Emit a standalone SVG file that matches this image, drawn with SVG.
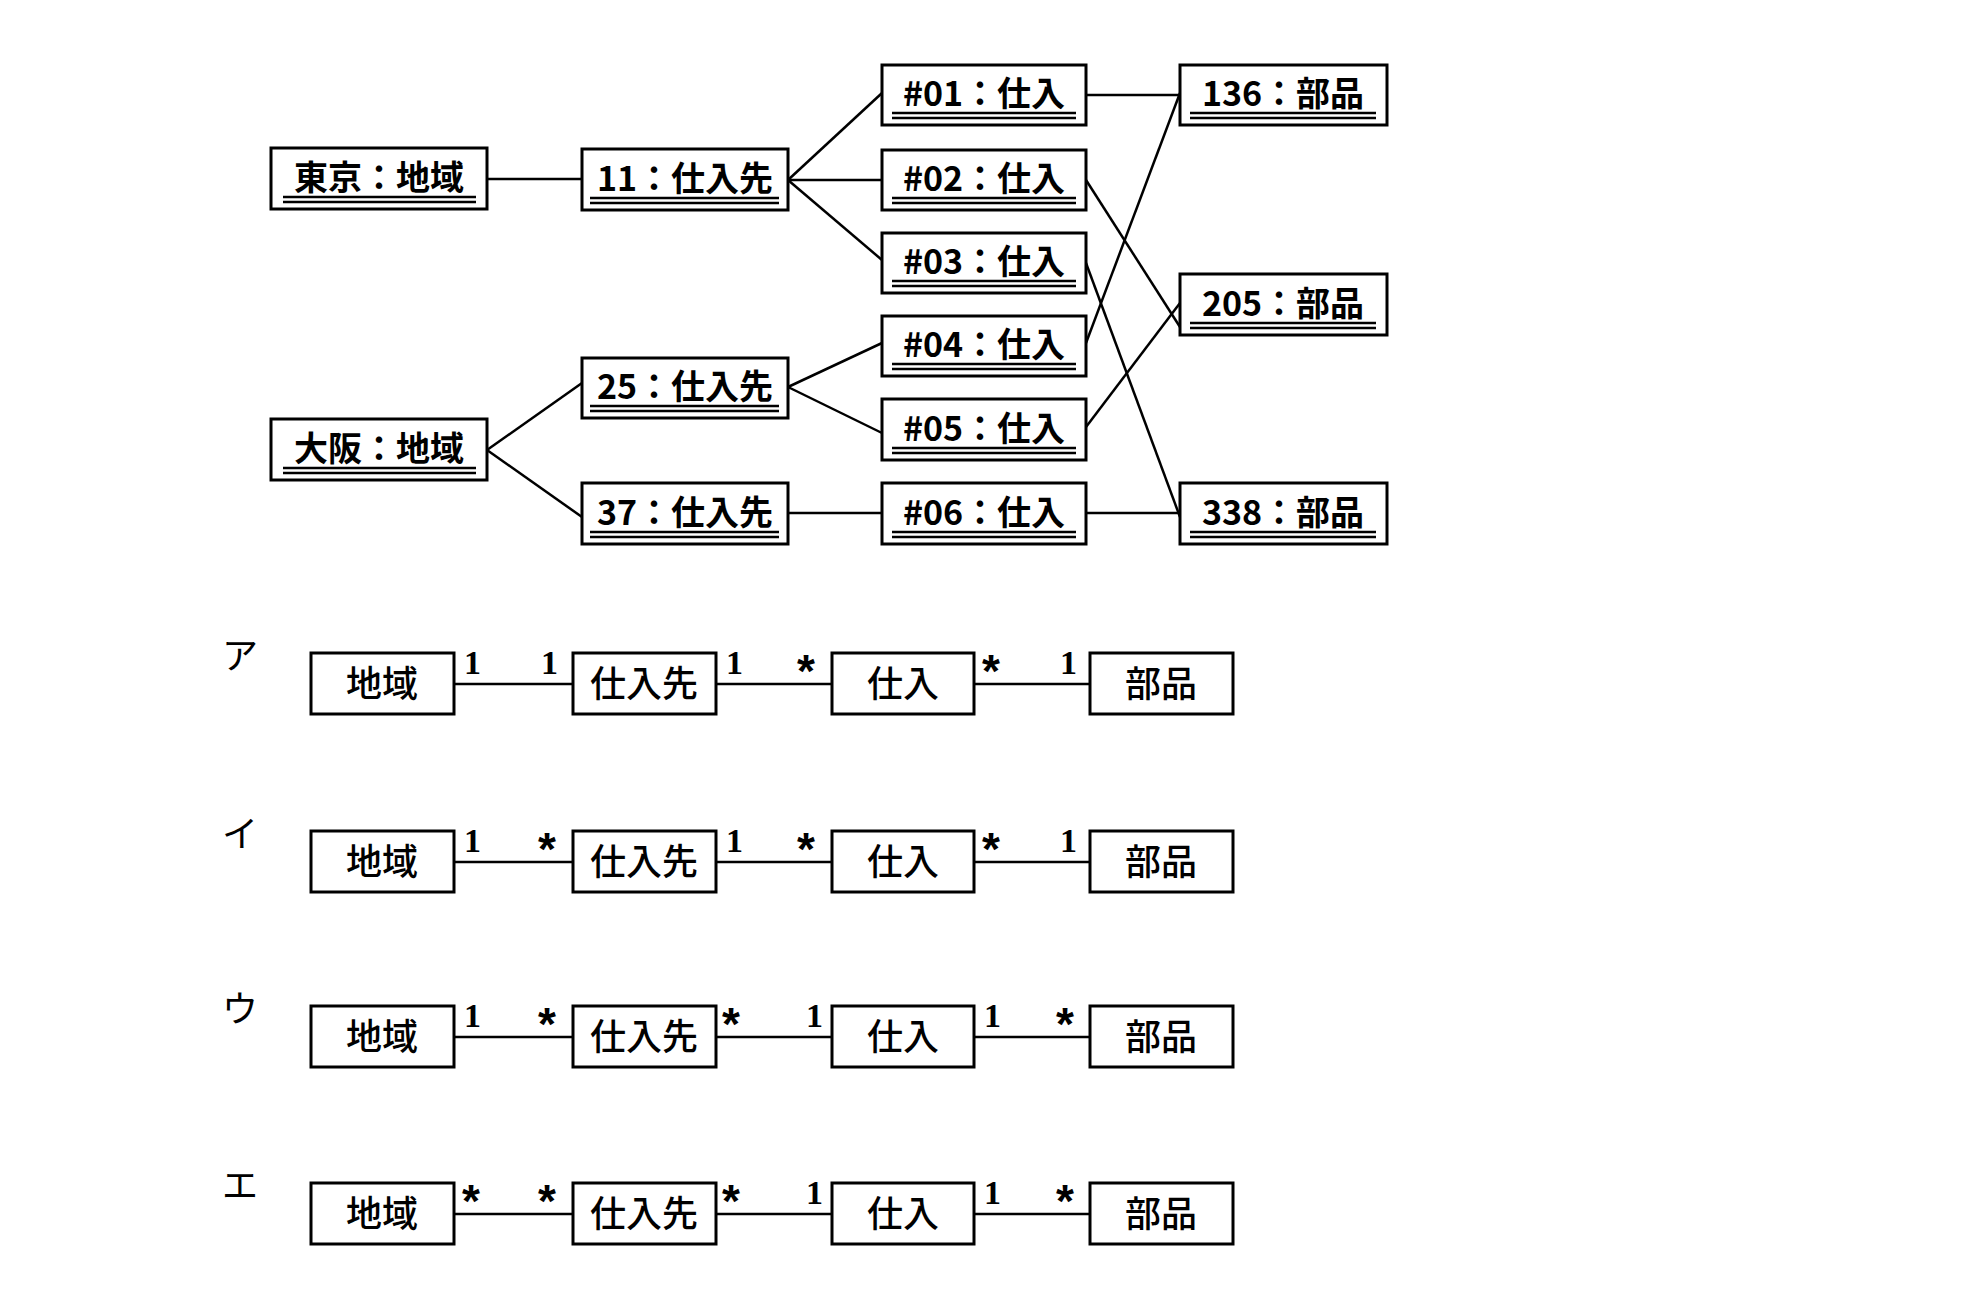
<svg xmlns="http://www.w3.org/2000/svg" width="1980" height="1300" viewBox="0 0 1980 1300">
<style>
rect{fill:#fff;stroke:#000;stroke-width:3}
text{font-family:"Noto Sans CJK JP","Liberation Sans",sans-serif;fill:#000}
.t{font-size:34px;font-weight:bold;text-anchor:middle}
.b{font-size:36px;font-weight:500;text-anchor:middle}
.m{font-size:34px;font-weight:bold;font-family:"Liberation Serif","Noto Sans CJK JP",serif}
.s{font-size:46px;font-weight:bold;font-family:"Liberation Sans","Noto Sans CJK JP",sans-serif}
.k{font-size:36px}
.u{stroke:#000;stroke-width:2.5}
#c line{stroke:#000;stroke-width:2.5}
</style>
<rect x="0" y="0" width="1980" height="1300" style="fill:#fff;stroke:none"/>
<g id="c">
<line x1="487" y1="179" x2="582" y2="179"/>
<line x1="788" y1="180" x2="882" y2="93"/>
<line x1="788" y1="180" x2="882" y2="180"/>
<line x1="788" y1="180" x2="882" y2="260"/>
<line x1="487" y1="450" x2="582" y2="383"/>
<line x1="487" y1="450" x2="582" y2="517"/>
<line x1="788" y1="387" x2="882" y2="343"/>
<line x1="788" y1="387" x2="882" y2="433"/>
<line x1="788" y1="513" x2="882" y2="513"/>
<line x1="1086" y1="95" x2="1180" y2="95"/>
<line x1="1086" y1="180" x2="1180" y2="327"/>
<line x1="1086" y1="263" x2="1180" y2="517"/>
<line x1="1086" y1="343" x2="1180" y2="93"/>
<line x1="1086" y1="427" x2="1180" y2="303"/>
<line x1="1086" y1="513" x2="1180" y2="513"/>
<line x1="454" y1="684" x2="573" y2="684"/><line x1="716" y1="684" x2="832" y2="684"/><line x1="974" y1="684" x2="1090" y2="684"/>
<line x1="454" y1="862" x2="573" y2="862"/><line x1="716" y1="862" x2="832" y2="862"/><line x1="974" y1="862" x2="1090" y2="862"/>
<line x1="454" y1="1037" x2="573" y2="1037"/><line x1="716" y1="1037" x2="832" y2="1037"/><line x1="974" y1="1037" x2="1090" y2="1037"/>
<line x1="454" y1="1214" x2="573" y2="1214"/><line x1="716" y1="1214" x2="832" y2="1214"/><line x1="974" y1="1214" x2="1090" y2="1214"/>
</g>
<g id="tokyo"><rect x="271" y="148" width="216" height="61"/><text class="t" x="379" y="190">東京：地域</text><line class="u" x1="283" y1="197" x2="476" y2="197"/><line class="u" x1="283" y1="202" x2="476" y2="202"/></g>
<g id="osaka"><rect x="271" y="419" width="216" height="61"/><text class="t" x="379" y="461">大阪：地域</text><line class="u" x1="283" y1="468" x2="476" y2="468"/><line class="u" x1="283" y1="473" x2="476" y2="473"/></g>
<g id="s11"><rect x="582" y="149" width="206" height="61"/><text class="t" x="685" y="191">11：仕入先</text><line class="u" x1="590" y1="198" x2="779" y2="198"/><line class="u" x1="590" y1="203" x2="779" y2="203"/></g>
<g id="s25"><rect x="582" y="358" width="206" height="60"/><text class="t" x="685" y="399">25：仕入先</text><line class="u" x1="590" y1="406" x2="779" y2="406"/><line class="u" x1="590" y1="411" x2="779" y2="411"/></g>
<g id="s37"><rect x="582" y="483" width="206" height="61"/><text class="t" x="685" y="525">37：仕入先</text><line class="u" x1="590" y1="532" x2="779" y2="532"/><line class="u" x1="590" y1="537" x2="779" y2="537"/></g>
<g id="p01"><rect x="882" y="65" width="204" height="60"/><text class="t" x="984" y="106">#01：仕入</text><line class="u" x1="892" y1="113" x2="1076" y2="113"/><line class="u" x1="892" y1="118" x2="1076" y2="118"/></g>
<g id="p02"><rect x="882" y="150" width="204" height="60"/><text class="t" x="984" y="191">#02：仕入</text><line class="u" x1="892" y1="198" x2="1076" y2="198"/><line class="u" x1="892" y1="203" x2="1076" y2="203"/></g>
<g id="p03"><rect x="882" y="233" width="204" height="60"/><text class="t" x="984" y="274">#03：仕入</text><line class="u" x1="892" y1="281" x2="1076" y2="281"/><line class="u" x1="892" y1="286" x2="1076" y2="286"/></g>
<g id="p04"><rect x="882" y="316" width="204" height="60"/><text class="t" x="984" y="357">#04：仕入</text><line class="u" x1="892" y1="364" x2="1076" y2="364"/><line class="u" x1="892" y1="369" x2="1076" y2="369"/></g>
<g id="p05"><rect x="882" y="399" width="204" height="61"/><text class="t" x="984" y="441">#05：仕入</text><line class="u" x1="892" y1="448" x2="1076" y2="448"/><line class="u" x1="892" y1="453" x2="1076" y2="453"/></g>
<g id="p06"><rect x="882" y="483" width="204" height="61"/><text class="t" x="984" y="525">#06：仕入</text><line class="u" x1="892" y1="532" x2="1076" y2="532"/><line class="u" x1="892" y1="537" x2="1076" y2="537"/></g>
<g id="b136"><rect x="1180" y="65" width="207" height="60"/><text class="t" x="1283" y="106">136：部品</text><line class="u" x1="1190" y1="113" x2="1376" y2="113"/><line class="u" x1="1190" y1="118" x2="1376" y2="118"/></g>
<g id="b205"><rect x="1180" y="274" width="207" height="61"/><text class="t" x="1283" y="316">205：部品</text><line class="u" x1="1190" y1="323" x2="1376" y2="323"/><line class="u" x1="1190" y1="328" x2="1376" y2="328"/></g>
<g id="b338"><rect x="1180" y="483" width="207" height="61"/><text class="t" x="1283" y="525">338：部品</text><line class="u" x1="1190" y1="532" x2="1376" y2="532"/><line class="u" x1="1190" y1="537" x2="1376" y2="537"/></g>

<g id="rowA">
<text class="k" x="222" y="669">ア</text>
<rect x="311" y="653" width="143" height="61"/><text class="b" x="382" y="697">地域</text>
<rect x="573" y="653" width="143" height="61"/><text class="b" x="644" y="697">仕入先</text>
<rect x="832" y="653" width="142" height="61"/><text class="b" x="903" y="697">仕入</text>
<rect x="1090" y="653" width="143" height="61"/><text class="b" x="1161" y="697">部品</text>
<text class="m" x="464" y="674">1</text><text class="m" x="541" y="674">1</text>
<text class="m" x="726" y="674">1</text><text class="s" x="797" y="687">*</text>
<text class="s" x="982" y="687">*</text><text class="m" x="1060" y="674">1</text>
</g>
<g id="rowI">
<text class="k" x="222" y="847">イ</text>
<rect x="311" y="831" width="143" height="61"/><text class="b" x="382" y="875">地域</text>
<rect x="573" y="831" width="143" height="61"/><text class="b" x="644" y="875">仕入先</text>
<rect x="832" y="831" width="142" height="61"/><text class="b" x="903" y="875">仕入</text>
<rect x="1090" y="831" width="143" height="61"/><text class="b" x="1161" y="875">部品</text>
<text class="m" x="464" y="852">1</text><text class="s" x="538" y="865">*</text>
<text class="m" x="726" y="852">1</text><text class="s" x="797" y="865">*</text>
<text class="s" x="982" y="865">*</text><text class="m" x="1060" y="852">1</text>
</g>
<g id="rowU">
<text class="k" x="222" y="1022">ウ</text>
<rect x="311" y="1006" width="143" height="61"/><text class="b" x="382" y="1050">地域</text>
<rect x="573" y="1006" width="143" height="61"/><text class="b" x="644" y="1050">仕入先</text>
<rect x="832" y="1006" width="142" height="61"/><text class="b" x="903" y="1050">仕入</text>
<rect x="1090" y="1006" width="143" height="61"/><text class="b" x="1161" y="1050">部品</text>
<text class="m" x="464" y="1027">1</text><text class="s" x="538" y="1040">*</text>
<text class="s" x="722" y="1040">*</text><text class="m" x="806" y="1027">1</text>
<text class="m" x="984" y="1027">1</text><text class="s" x="1056" y="1040">*</text>
</g>
<g id="rowE">
<text class="k" x="222" y="1199">エ</text>
<rect x="311" y="1183" width="143" height="61"/><text class="b" x="382" y="1227">地域</text>
<rect x="573" y="1183" width="143" height="61"/><text class="b" x="644" y="1227">仕入先</text>
<rect x="832" y="1183" width="142" height="61"/><text class="b" x="903" y="1227">仕入</text>
<rect x="1090" y="1183" width="143" height="61"/><text class="b" x="1161" y="1227">部品</text>
<text class="s" x="462" y="1217">*</text><text class="s" x="538" y="1217">*</text>
<text class="s" x="722" y="1217">*</text><text class="m" x="806" y="1204">1</text>
<text class="m" x="984" y="1204">1</text><text class="s" x="1056" y="1217">*</text>
</g>
</svg>
